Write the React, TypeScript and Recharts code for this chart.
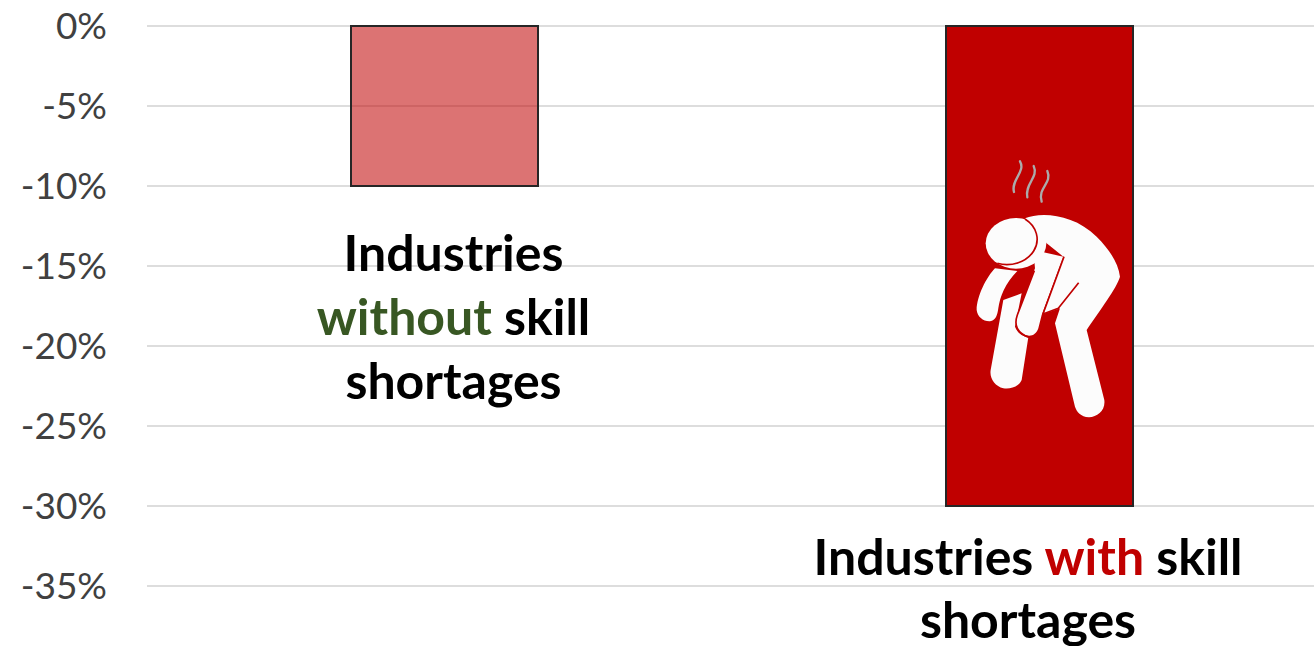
import { BarChart, Bar, Cell, CartesianGrid, XAxis, YAxis } from "recharts";

const categories = ["Without", "With"];
const changes = [-10, -30];
const tickValues = [0, -5, -10, -15, -20, -25, -30, -35];

const RED = "#C00000";
const GREEN = "#385723";
const BLACK = "#000000";

const withoutLabel = [
  [{ text: "Industries", color: BLACK }],
  [
    { text: "without", color: GREEN },
    { text: " skill", color: BLACK },
  ],
  [{ text: "shortages", color: BLACK }],
];
const withLabel = [
  [
    { text: "Industries ", color: BLACK },
    { text: "with", color: RED },
    { text: " skill", color: BLACK },
  ],
  [{ text: "shortages", color: BLACK }],
];

const barLabels = [withoutLabel, withLabel];
const fillOpacities = [0.55, 1];

const data = categories.map((name, i) => ({ name, change: changes[i] }));

// Tired figure with steam, sits inside the darker bar
function TiredFigure({ x, y }: { x: number; y: number }) {
  return (
    <g transform={`translate(${x - 6} ${y + 114}) scale(0.3333)`}>
      <g fill="none" stroke="#ABABAB" strokeWidth={7} strokeLinecap="round">
        <path d="M240,64 C258,95 212,120 222,156" />
        <path d="M281,78 C297,112 254,130 262,172" />
        <path d="M322,93 C338,130 292,142 305,185" />
      </g>
      <g fill="#FCFCFC">
        <path d="M255,235 C300,215 400,220 470,290 C510,330 535,370 540,410 C530,445 480,510 440,570 L493,780 C497,812 472,830 447,832 C422,830 410,815 405,800 L345,550 L360,505 L310,522 L370,350 L320,310 Z" />
        <path d="M280,330 L370,350 L305,525 L295,565 C287,590 265,592 245,580 C225,565 225,545 232,525 L285,385 Z" />
        <path d="M190,480 L245,460 L225,560 C232,580 250,590 265,592 L245,720 C235,742 210,748 190,745 C165,738 148,715 152,690 Z" />
        <path d="M232,393 L165,385 C140,410 110,470 110,510 C112,530 130,545 150,544 C168,542 172,525 175,505 C180,470 195,430 232,393 Z" />
      </g>
      <g fill="none" stroke={RED} strokeWidth={5} strokeLinejoin="round">
        <path d="M372,350 L309,522 L355,505 L416,428" />
        <path d="M283,392 L232,525 C225,545 225,565 245,580 C252,587 262,591 270,592" />
      </g>
      <ellipse cx={228} cy={310} rx={91} ry={76} fill="#FCFCFC" />
      <path d="M255,237 A91,76 0 0 1 172,370" fill="none" stroke={RED} strokeWidth={5} />
    </g>
  );
}

function BarCaption(props: any) {
  const { x, y, width, height, index } = props;
  const bottom = Math.max(y, y + height);
  const centre = x + width / 2 + (index === 0 ? 9 : -11.5);
  const firstLine = bottom + (index === 0 ? 85 : 69);
  const lineGap = index === 0 ? 64 : 63;

  return (
    <g>
      {index === 1 && <TiredFigure x={x} y={Math.min(y, y + height)} />}
      <text
        textAnchor="middle"
        fontFamily="Lato, sans-serif"
        fontWeight={700}
        fontSize={50}
      >
        {barLabels[index].map((line, i) => (
          <tspan key={i} x={centre} y={firstLine + i * lineGap}>
            {line.map((part, j) => (
              <tspan key={j} fill={part.color}>
                {part.text}
              </tspan>
            ))}
          </tspan>
        ))}
      </text>
    </g>
  );
}

export default function App() {
  return (
    <div
      style={{
        position: "absolute",
        left: 0,
        top: 0,
        width: 1314,
        height: 646,
        overflow: "hidden",
        background: "#fff",
      }}
    >
      <BarChart
        width={1337}
        height={646}
        data={data}
        margin={{ top: 26, right: 0, bottom: 60, left: 0 }}
      >
        <CartesianGrid
          horizontal
          vertical={false}
          stroke="#DDDDDD"
          strokeWidth={2}
        />
        <XAxis dataKey="name" hide />
        <YAxis
          width={147}
          domain={[-35, 0]}
          ticks={tickValues}
          interval={0}
          axisLine={false}
          tickLine={false}
          tickSize={0}
          tickMargin={40}
          tickFormatter={(v: number) => `${v}%`}
          tick={{ fill: "#404040", fontSize: 37, fontFamily: "Lato, sans-serif" }}
        />
        <Bar
          dataKey="change"
          barSize={187}
          stroke="#262626"
          strokeWidth={2}
          isAnimationActive={false}
          label={BarCaption}
        >
          {categories.map((name, i) => (
            <Cell key={name} fill={RED} fillOpacity={fillOpacities[i]} />
          ))}
        </Bar>
      </BarChart>
    </div>
  );
}
